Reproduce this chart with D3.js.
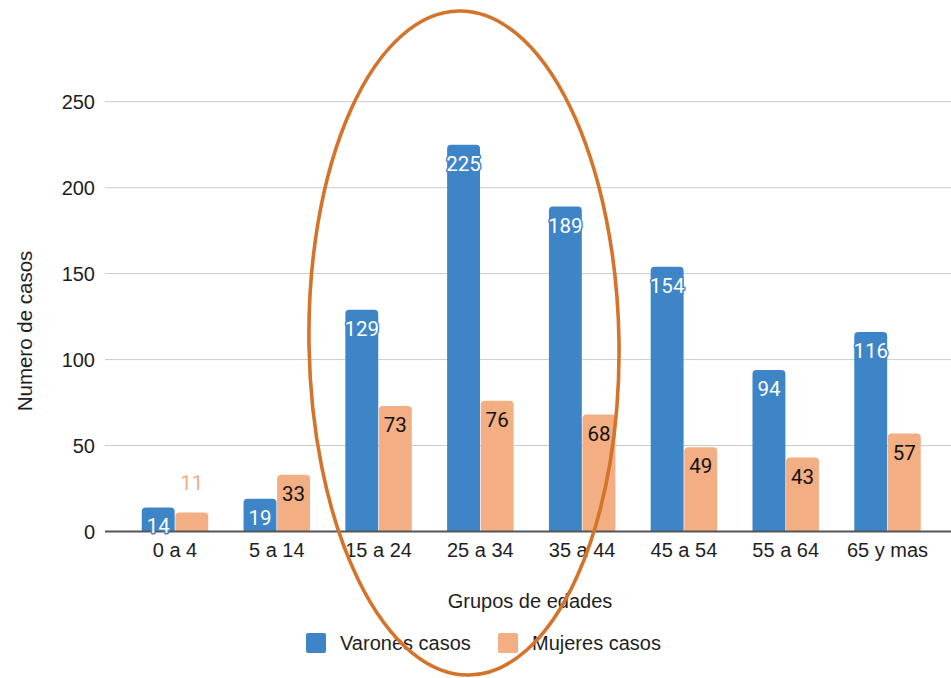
<!DOCTYPE html>
<html>
<head>
<meta charset="utf-8">
<script src="https://cdn.jsdelivr.net/npm/d3@7"></script>
<style>
  html, body { margin: 0; padding: 0; background: #fff; }
  svg { display: block; }
  .axis-text { font-family: "Liberation Sans", Arial, sans-serif; fill: #1e1e1e; }
  .val { font-family: Roboto, "Noto Sans", sans-serif; }
</style>
</head>
<body>
<svg id="chart" width="951" height="678"></svg>
<script>
// Age groups and case counts per sex
const categories = ["0 a 4", "5 a 14", "15 a 24", "25 a 34", "35 a 44", "45 a 54", "55 a 64", "65 y mas"];
const varones = [14, 19, 129, 225, 189, 154, 94, 116];
const mujeres = [11, 33, 73, 76, 68, 49, 43, 57];
const seriesNames = ["Varones casos", "Mujeres casos"];
const yTicks = [0, 50, 100, 150, 200, 250];

const colors = ["#3d85c6", "#f4ae83"];
const seriesValues = [varones, mujeres];

const svg = d3.select("#chart");

const plot = { left: 105, right: 951, top: 101.7, bottom: 531.5 };

const x = d3.scaleBand()
  .domain(categories)
  .range([124.1, 938.4])
  .paddingInner(0.347)
  .paddingOuter(0.1735);

const xs = d3.scaleBand()
  .domain(d3.range(seriesNames.length))
  .range([0, x.bandwidth()])
  .paddingInner(0.02);

const y = d3.scaleLinear().domain([0, 250]).range([plot.bottom, plot.top]);

// Gridlines
svg.append("g")
  .selectAll("line")
  .data(yTicks.filter(d => d !== 0))
  .join("line")
  .attr("x1", plot.left).attr("x2", plot.right)
  .attr("y1", d => y(d)).attr("y2", d => y(d))
  .attr("stroke", "#cccccc").attr("stroke-width", 1);

// Y tick labels
svg.append("g")
  .selectAll("text")
  .data(yTicks)
  .join("text")
  .attr("class", "axis-text")
  .attr("x", 95)
  .attr("y", d => y(d))
  .attr("dy", "0.36em")
  .attr("text-anchor", "end")
  .attr("font-size", 20)
  .text(d => d);

// Bars with rounded top corners
function topRounded(x0, y0, w, h, r) {
  r = Math.min(r, h, w / 2);
  return `M${x0},${y0 + h}V${y0 + r}Q${x0},${y0} ${x0 + r},${y0}H${x0 + w - r}Q${x0 + w},${y0} ${x0 + w},${y0 + r}V${y0 + h}Z`;
}

const rows = [];
categories.forEach((c, i) => {
  seriesValues.forEach((vals, s) => rows.push({ cat: c, s, v: vals[i] }));
});

svg.append("g")
  .selectAll("path")
  .data(rows)
  .join("path")
  .attr("d", d => {
    const bx = x(d.cat) + xs(d.s);
    const by = y(d.v);
    return topRounded(bx, by, xs.bandwidth(), y(0) - by, 4);
  })
  .attr("fill", d => colors[d.s]);

// Axis baseline
svg.append("line")
  .attr("x1", plot.left).attr("x2", plot.right)
  .attr("y1", y(0)).attr("y2", y(0))
  .attr("stroke", "#555").attr("stroke-width", 2);

// Value labels
const labels = svg.append("g").attr("class", "val");
rows.forEach(d => {
  const cx = x(d.cat) + xs(d.s) + xs.bandwidth() / 2;
  const h = y(0) - y(d.v);
  const outside = d.s === 1 && h < 22;
  const t = labels.append("text")
    .attr("x", cx)
    .attr("text-anchor", "middle")
    .attr("font-size", 20.5)
    .text(d.v);
  if (outside) {
    t.attr("y", y(d.v) - 23).attr("fill", colors[1]);
  } else if (d.s === 0) {
    t.attr("y", y(d.v) + 26)
      .attr("fill", "#fff")
      .attr("stroke", colors[0])
      .attr("stroke-width", 3)
      .attr("stroke-linejoin", "round")
      .attr("paint-order", "stroke");
  } else {
    t.attr("y", y(d.v) + 26).attr("fill", "#111");
  }
});

// X tick labels
svg.append("g")
  .selectAll("text")
  .data(categories)
  .join("text")
  .attr("class", "axis-text")
  .attr("x", d => x(d) + x.bandwidth() / 2)
  .attr("y", 557)
  .attr("text-anchor", "middle")
  .attr("font-size", 20)
  .text(d => d);

// Axis titles
svg.append("text")
  .attr("class", "axis-text")
  .attr("x", 530).attr("y", 608)
  .attr("text-anchor", "middle")
  .attr("font-size", 20)
  .text("Grupos de edades");

svg.append("text")
  .attr("class", "axis-text")
  .attr("transform", "translate(32,331) rotate(-90)")
  .attr("text-anchor", "middle")
  .attr("font-size", 20.5)
  .text("Numero de casos");

// Legend
const legendX = [306, 498];
const legend = svg.append("g");
seriesNames.forEach((name, i) => {
  legend.append("rect")
    .attr("x", legendX[i]).attr("y", 633)
    .attr("width", 20).attr("height", 20)
    .attr("rx", 2)
    .attr("fill", colors[i]);
  legend.append("text")
    .attr("class", "axis-text")
    .attr("x", legendX[i] + 34).attr("y", 650)
    .attr("font-size", 20)
    .text(name);
});

// Highlight ring around the 15–44 age groups
svg.append("ellipse")
  .attr("cx", 464).attr("cy", 343)
  .attr("rx", 155).attr("ry", 332)
  .attr("transform", "rotate(-0.9 464 343)")
  .attr("fill", "none")
  .attr("stroke", "#d5732a")
  .attr("stroke-width", 3.6);
</script>
</body>
</html>
